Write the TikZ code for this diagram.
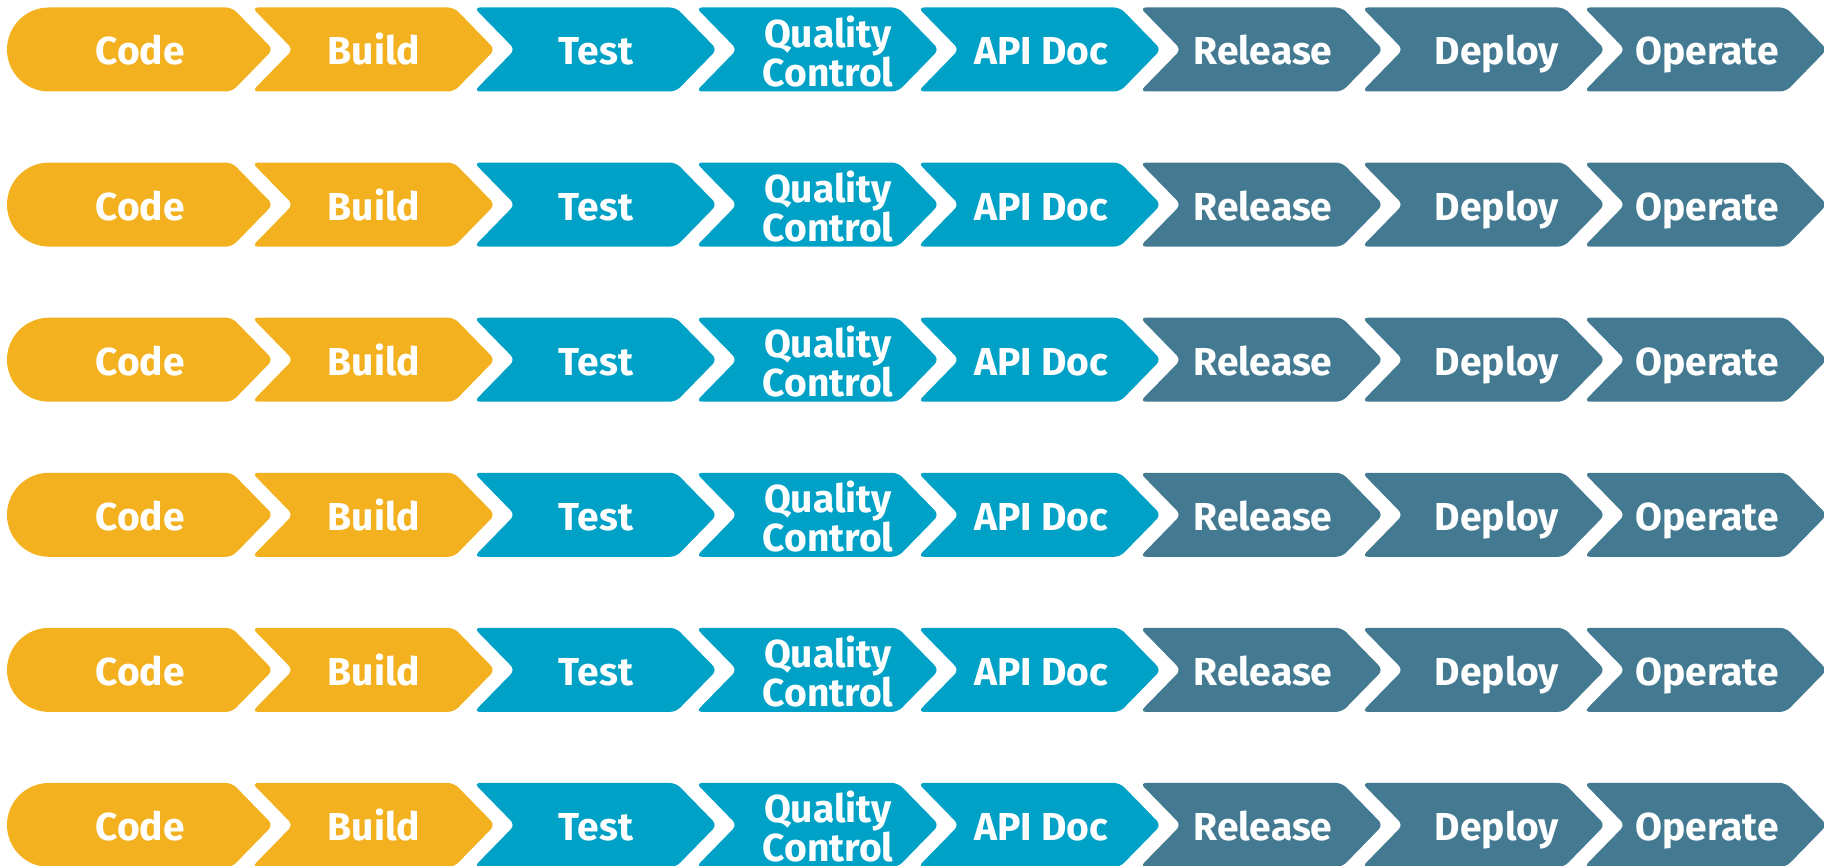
\documentclass[tikz,border=0pt]{standalone}
\usepackage{fontspec}
\setmainfont{Fira Sans}
\definecolor{cOrange}{RGB}{243,177,32}
\definecolor{cBlue}{RGB}{0,161,198}
\definecolor{cSlate}{RGB}{67,122,145}
\begin{document}
\begin{tikzpicture}[x=1pt,y=1pt,
  lbl/.style={text=white,font=\bfseries\fontsize{39}{39}\selectfont,align=center,inner sep=0pt,anchor=base},
  chev/.style={rounded corners=6pt}]
\useasboundingbox (0,0) rectangle (1824,866);
\clip (0,0) rectangle (1824,866);
\foreach \r in {0,...,5} {
  \pgfmathsetmacro\yc{816.5-155.1*\r}
  \pgfmathsetmacro\yt{\yc+42}
  \pgfmathsetmacro\yb{\yc-42}
  % first stage: rounded left end
  \fill[cOrange] (49,\yb) arc[start angle=270,end angle=90,radius=42]
     [rounded corners=6pt] -- (232,\yt) -- (273,\yc) -- (232,\yb) [sharp corners] -- cycle;
  \foreach \i/\c in {1/cOrange,2/cBlue,3/cBlue,4/cBlue,5/cSlate,6/cSlate,7/cSlate} {
    \pgfmathsetmacro\P{273+222*\i}
    \fill[\c,chev] ({\P-243},\yt) -- ({\P-41},\yt) -- (\P,\yc) -- ({\P-41},\yb)
      -- ({\P-243},\yb) -- ({\P-202},\yc) -- cycle;
  }
  \node[lbl] (code-\r) at (140,{\yc-15.5}) {Code};
  \node[lbl] (build-\r) at (374,{\yc-15.5}) {Build};
  \node[lbl] (test-\r) at (596,{\yc-15.5}) {Test};
  \node[lbl] (qc-\r) at (828,{\yc-37}) {Quality\\Control};
  \node[lbl] (api-\r) at (1041,{\yc-15.5}) {API Doc};
  \node[lbl] (rel-\r) at (1263,{\yc-15.5}) {Release};
  \node[lbl] (dep-\r) at (1497,{\yc-15.5}) {Deploy};
  \node[lbl] (ope-\r) at (1707,{\yc-15.5}) {Operate};
}
\end{tikzpicture}
\end{document}
